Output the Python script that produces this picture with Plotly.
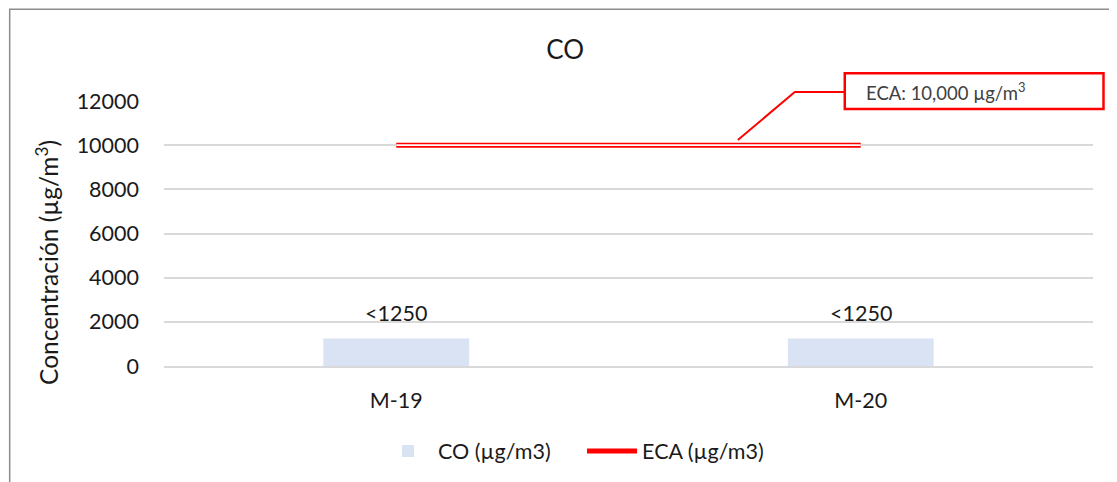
import plotly.graph_objects as go

# data
muestras = ["M-19", "M-20"]
co_valores = [1250, 1250]
co_etiquetas = ["<1250", "<1250"]
eca_valor = 10000
eca_valores = [eca_valor, eca_valor]
y_ticks = [0, 2000, 4000, 6000, 8000, 10000, 12000]

fuente = "Lato"
negro = "#1a1a1a"

fig = go.Figure()

fig.add_trace(go.Bar(
    x=muestras, y=co_valores, name="CO (µg/m3)",
    marker=dict(color="#DAE3F3", line=dict(width=0)),
    width=0.314,
))

# ECA line: red outline with white core
fig.add_trace(go.Scatter(
    x=muestras, y=eca_valores, name="ECA (µg/m3)", mode="lines",
    line=dict(color="#FF0000", width=5),
))
fig.add_trace(go.Scatter(
    x=muestras, y=eca_valores, mode="lines", showlegend=False,
    line=dict(color="white", width=1.8), hoverinfo="skip",
))

# data labels above the bars
for m, v, t in zip(muestras, co_valores, co_etiquetas):
    fig.add_annotation(x=m, y=v, text=t, showarrow=False, yanchor="middle",
                       yshift=25, font=dict(size=21.5, color=negro))

# callout box + connector (paper coords)
fig.add_shape(type="rect", xref="paper", yref="paper",
              x0=0.7328, x1=1.0113, y0=0.970, y1=1.105,
              line=dict(color="#FF0000", width=2.5), fillcolor="white")
fig.add_shape(type="path", xref="paper", yref="paper",
              path="M 0.6177 0.853 L 0.6790 1.0338 L 0.7328 1.0338",
              line=dict(color="#FF0000", width=2))
fig.add_annotation(xref="paper", yref="paper", x=0.754, y=1.035,
                   xanchor="left", yanchor="middle", showarrow=False,
                   text="ECA: 10,000 µg/m<sup>3</sup>",
                   font=dict(size=18.5, color="#404040", family=fuente))

# y axis title (Excel places it a bit low)
fig.add_annotation(xref="paper", yref="paper", x=-0.1253, y=0.391,
                   xanchor="center", yanchor="middle", showarrow=False,
                   textangle=-90, text="Concentración (µg/m<sup>3</sup>)",
                   font=dict(size=24.5, color=negro))

# outer chart border
fig.add_shape(type="rect", xref="paper", yref="paper",
              x0=-0.1661, x1=1.05, y0=-0.6, y1=1.3459,
              line=dict(color="#8c8c8c", width=1.5), layer="below")

fig.update_layout(
    width=1109, height=474,
    margin=dict(l=155.5, r=23.5, t=93, b=115),
    paper_bgcolor="white", plot_bgcolor="white",
    font=dict(family=fuente, size=21.5, color=negro),
    title=dict(text="CO", x=0.4317, xref="paper", xanchor="center",
               y=0.9114, yanchor="middle", font=dict(size=26, color=negro)),
    showlegend=True,
    legend=dict(orientation="h", x=0.450, xanchor="center",
                y=-0.316, yanchor="middle", font=dict(size=21.5),
                itemwidth=50, entrywidth=139),
)

fig.update_xaxes(range=[-0.5, 1.5], showgrid=False, showline=True,
                 linecolor="#D9D9D9", linewidth=1.5, ticks="",
                 ticklabelstandoff=14, tickfont=dict(size=21.5))
fig.update_yaxes(range=[0, 12000], tickvals=y_ticks, tickformat="d",
                 showgrid=True, gridcolor="#D9D9D9", gridwidth=1.5,
                 zeroline=False, showline=False, ticks="",
                 ticklabelstandoff=24, tickfont=dict(size=21.5))

fig.write_html("out.html")
